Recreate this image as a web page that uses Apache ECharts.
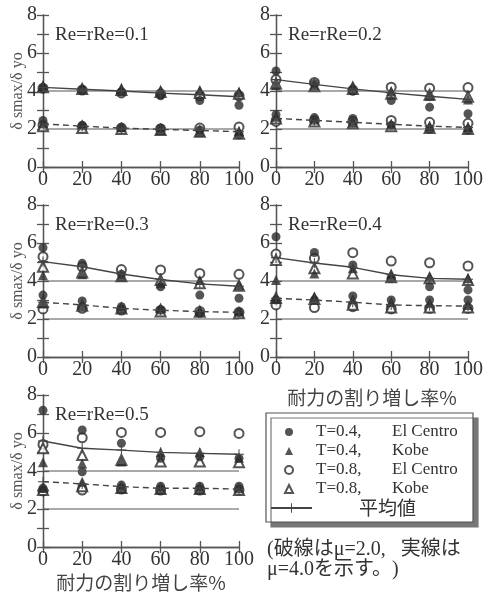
<!DOCTYPE html>
<html>
<head>
<meta charset="utf-8">
<script src="https://cdn.jsdelivr.net/npm/echarts@6/dist/echarts.min.js"></script>
<style>
    html, body { margin: 0; padding: 0; background: #fff; }
    #chart { width: 486px; height: 597px; }
</style>
</head>
<body>
<div id="chart"></div>
<script>
var xValues = [0, 20, 40, 60, 80, 100];
var yTicks = [0, 2, 4, 6, 8];
var refLevels = [2, 4];
var panelLabels = ['Re=rRe=0.1', 'Re=rRe=0.2', 'Re=rRe=0.3', 'Re=rRe=0.4', 'Re=rRe=0.5'];
var seriesNames = ['T=0.4, El Centro', 'T=0.4, Kobe', 'T=0.8, El Centro', 'T=0.8, Kobe'];
var meanName = '平均値';

// mu = 4.0 (solid line), one row per panel
var elCentro04Mu4 = [
    [4.15, 4.05, 3.95, 3.75, 3.5, 3.25],
    [5.05, 4.4, 4.0, 3.5, 3.15, 2.8],
    [5.75, 4.93, 4.35, 3.7, 3.26, 3.09],
    [6.33, 5.5, 4.84, 4.14, 3.7, 3.53],
    [7.2, 6.16, 5.46, 4.67, 4.75, 4.67]
];
var kobe04Mu4 = [
    [4.25, 4.15, 4.1, 4.0, 4.05, 3.95],
    [4.3, 4.3, 4.3, 4.0, 3.75, 3.55],
    [4.3, 4.35, 4.23, 3.88, 4.05, 3.79],
    [4.05, 4.4, 4.67, 4.4, 4.23, 4.14],
    [4.46, 4.4, 4.5, 5.0, 5.0, 4.7]
];
var elCentro08Mu4 = [
    [4.15, 4.05, 3.9, 3.85, 3.75, 3.75],
    [4.6, 4.45, 4.05, 4.2, 4.15, 4.18],
    [5.28, 4.75, 4.6, 4.58, 4.4, 4.35],
    [5.42, 5.2, 5.49, 5.05, 4.96, 4.79],
    [5.4, 5.75, 6.03, 6.03, 6.07, 5.98]
];
var kobe08Mu4 = [
    [4.2, 4.1, 4.05, 3.95, 3.9, 3.85],
    [4.4, 4.25, 4.1, 3.85, 3.8, 3.7],
    [4.75, 4.45, 4.25, 4.05, 3.88, 3.75],
    [5.1, 4.67, 4.4, 4.2, 4.15, 4.05],
    [5.2, 4.84, 4.58, 4.5, 4.5, 4.46]
];
var meanMu4 = [
    [4.19, 4.09, 4.0, 3.89, 3.8, 3.7],
    [4.6, 4.35, 4.11, 3.9, 3.72, 3.56],
    [5.02, 4.75, 4.37, 4.08, 3.85, 3.72],
    [5.23, 4.95, 4.72, 4.33, 4.14, 4.09],
    [5.58, 5.2, 5.1, 4.98, 4.93, 4.88]
];

// mu = 2.0 (dashed line)
var elCentro04Mu2 = [
    [2.45, 2.2, 2.05, 2.05, 1.95, 1.7],
    [2.75, 2.6, 2.55, 2.2, 2.0, 1.95],
    [3.26, 2.95, 2.65, 2.47, 2.3, 2.35],
    [3.0, 3.0, 3.21, 3.0, 3.0, 3.0],
    [3.1, 3.96, 3.26, 3.2, 3.2, 3.2]
];
var kobe04Mu2 = [
    [2.3, 2.25, 2.1, 1.95, 1.85, 1.9],
    [2.65, 2.5, 2.35, 2.25, 2.15, 2.1],
    [2.82, 2.74, 2.55, 2.6, 2.42, 2.4],
    [3.09, 3.18, 3.04, 2.9, 2.85, 2.74],
    [3.1, 3.44, 3.09, 3.05, 3.05, 3.09]
];
var elCentro08Mu2 = [
    [2.2, 2.1, 2.05, 2.0, 2.05, 2.1],
    [2.4, 2.45, 2.4, 2.45, 2.35, 2.3],
    [2.53, 2.56, 2.47, 2.45, 2.4, 2.35],
    [2.74, 2.6, 2.65, 2.53, 2.56, 2.56],
    [2.95, 3.0, 3.05, 3.0, 3.0, 3.0]
];
var kobe08Mu2 = [
    [2.15, 2.05, 2.0, 1.95, 1.85, 1.75],
    [2.55, 2.4, 2.3, 2.15, 2.05, 2.0],
    [2.9, 2.7, 2.55, 2.4, 2.38, 2.3],
    [3.1, 3.05, 2.75, 2.6, 2.6, 2.6],
    [3.0, 3.2, 3.1, 3.05, 3.05, 3.0]
];
var meanMu2 = [
    [2.27, 2.15, 2.05, 1.98, 1.92, 1.86],
    [2.56, 2.45, 2.35, 2.25, 2.15, 2.08],
    [2.88, 2.74, 2.56, 2.46, 2.39, 2.35],
    [3.09, 3.0, 2.88, 2.74, 2.7, 2.68],
    [3.44, 3.32, 3.18, 3.09, 3.09, 3.05]
];

var serif = "'Liberation Serif', 'Times New Roman', serif";
var jp = "'Noto Sans CJK JP', sans-serif";
var mixed = "'Liberation Serif', 'Noto Sans CJK JP', serif";
var ink = '#2b2b2b';
var frame = '#555';
var plusPath = 'path://M4.5,0H5.5V4.5H10V5.5H5.5V10H4.5V5.5H0V4.5H4.5Z';

var gridPos = [
    { left: 43, top: 15 }, { left: 276, top: 15 },
    { left: 43, top: 205 }, { left: 276, top: 205 },
    { left: 43, top: 395 }
];

function pairs(values) {
    return xValues.map(function (x, i) { return [x, values[i]]; });
}

var grids = [], xAxes = [], yAxes = [], series = [], titles = [];

gridPos.forEach(function (pos, p) {
    grids.push({ left: pos.left, top: pos.top, width: 196, height: 152 });

    titles.push({
        text: panelLabels[p],
        left: pos.left + 12,
        top: pos.top + 11,
        padding: 0,
        textStyle: { fontFamily: serif, fontSize: 19, fontWeight: 'normal', color: '#333' }
    });

    var showXName = (p === 3 || p === 4);
    var lineStyle = { color: frame, width: 1.3 };

    xAxes.push({
        type: 'value', gridIndex: p, position: 'bottom',
        min: 0, max: 100, interval: 20,
        axisLine: { lineStyle: lineStyle },
        axisTick: { inside: true, length: 6, lineStyle: lineStyle },
        axisLabel: { fontFamily: serif, fontSize: 20, color: '#333', margin: 3 },
        splitLine: { show: false },
        name: showXName ? '耐力の割り増し率%' : '',
        nameLocation: 'middle',
        nameMoveOverlap: false,
        nameGap: p === 3 ? 31 : 26,
        nameTextStyle: { fontFamily: jp, fontSize: 19, color: '#444' }
    });
    xAxes.push({
        type: 'value', gridIndex: p, position: 'top',
        min: 0, max: 100, interval: 20,
        axisLine: { lineStyle: lineStyle },
        axisTick: { inside: true, length: 6, lineStyle: lineStyle },
        axisLabel: { show: false },
        splitLine: { show: false }
    });

    var showYName = (p % 2 === 0);
    yAxes.push({
        type: 'value', gridIndex: p, position: 'left',
        min: 0, max: 8, interval: 1,
        axisLine: { lineStyle: lineStyle },
        axisTick: { inside: true, length: 6, lineStyle: lineStyle },
        axisLabel: {
            fontFamily: serif, fontSize: 20, color: '#333', margin: 6,
            formatter: function (v) { return yTicks.indexOf(v) >= 0 ? String(v) : ''; }
        },
        splitLine: { show: false },
        name: showYName ? 'δ smax/δ yo' : '',
        nameLocation: 'middle',
        nameMoveOverlap: false,
        nameGap: 17,
        nameTextStyle: { fontFamily: serif, fontSize: 16, color: '#555' }
    });
    yAxes.push({
        type: 'value', gridIndex: p, position: 'right',
        min: 0, max: 8, interval: 1,
        axisLine: { lineStyle: lineStyle },
        axisTick: { inside: true, length: 6, lineStyle: lineStyle },
        axisLabel: { show: false },
        splitLine: { show: false }
    });

    var xi = p * 2, yi = p * 2;

    // reference lines at 2 and 4
    refLevels.forEach(function (lv) {
        series.push({
            type: 'line', xAxisIndex: xi, yAxisIndex: yi, silent: true,
            symbol: 'none', data: [[xValues[0], lv], [xValues[xValues.length - 1], lv]],
            lineStyle: { color: frame, width: 1.2 }
        });
    });

    // mean lines
    series.push({
        name: meanName, type: 'line', xAxisIndex: xi, yAxisIndex: yi,
        data: pairs(meanMu4[p]), symbol: plusPath, symbolSize: 10,
        itemStyle: { color: '#444' }, lineStyle: { color: '#444', width: 1.4 }
    });
    series.push({
        name: meanName, type: 'line', xAxisIndex: xi, yAxisIndex: yi,
        data: pairs(meanMu2[p]), symbol: plusPath, symbolSize: 10,
        itemStyle: { color: '#444' }, lineStyle: { color: '#444', width: 1.4, type: [6, 4] }
    });

    var groups = [
        [elCentro04Mu4, kobe04Mu4, elCentro08Mu4, kobe08Mu4],
        [elCentro04Mu2, kobe04Mu2, elCentro08Mu2, kobe08Mu2]
    ];
    var symbols = ['circle', 'triangle', 'emptyCircle', 'emptyTriangle'];
    var sizes = [9, 10, 9, 10];
    // open marks first so the filled ones sit on top
    var drawOrder = [2, 3, 1, 0];
    groups.forEach(function (grp) {
        drawOrder.forEach(function (k) {
            series.push({
                name: seriesNames[k], type: 'scatter', xAxisIndex: xi, yAxisIndex: yi,
                data: pairs(grp[k][p]), symbol: symbols[k], symbolSize: sizes[k],
                itemStyle: { color: ink, borderWidth: k >= 2 ? 1.2 : 0 }
            });
        });
    });
});

var chart = echarts.init(document.getElementById('chart'));
var option = {
    backgroundColor: '#fff',
    animation: false,
    title: titles,
    grid: grids,
    xAxis: xAxes,
    yAxis: yAxes,
    series: series,
    legend: [{
        data: seriesNames,
        orient: 'vertical', left: 284, top: 422.5, padding: 0,
        itemWidth: 8, itemHeight: 8, itemGap: 0, z: 5,
        formatter: function (name) {
            var parts = name.split(', ');
            return '{a|' + parts[0] + ',}{b|' + parts[1] + '}';
        },
        textStyle: {
            fontFamily: serif, fontSize: 17, color: '#333', lineHeight: 19,
            rich: {
                a: { fontFamily: serif, fontSize: 17, color: '#333', width: 76, padding: [0, 0, 0, 18] },
                b: { fontFamily: serif, fontSize: 17, color: '#333' }
            }
        }
    }, {
        data: [meanName],
        orient: 'vertical', left: 270, top: 498.5, padding: 0,
        itemWidth: 41, itemHeight: 12, z: 5,
        formatter: '{c|{name}}',
        textStyle: {
            fontFamily: jp, fontSize: 19, color: '#333', lineHeight: 19,
            rich: { c: { fontFamily: jp, fontSize: 19, color: '#333', padding: [0, 0, 0, 42] } }
        }
    }],
    graphic: [{
        type: 'rect', z: 1,
        shape: { x: 266, y: 413, width: 207, height: 109 },
        style: { fill: '#fff', stroke: frame, lineWidth: 1.2, shadowColor: '#777', shadowOffsetX: 5, shadowOffsetY: 5, shadowBlur: 0 }
    }, {
        type: 'text', z: 1, left: 267, top: 540,
        style: { text: '(破線は\u03bc=2.0,   実線は', font: '20px ' + mixed, fill: '#333' }
    }, {
        type: 'text', z: 1, left: 267, top: 560,
        style: { text: '\u03bc=4.0を示す。)', font: '20px ' + mixed, fill: '#333' }
    }]
};
chart.setOption(option);

window.addEventListener('resize', function () {
    setTimeout(function () { chart.resize(); }, 250);
});
</script>
</body>
</html>
